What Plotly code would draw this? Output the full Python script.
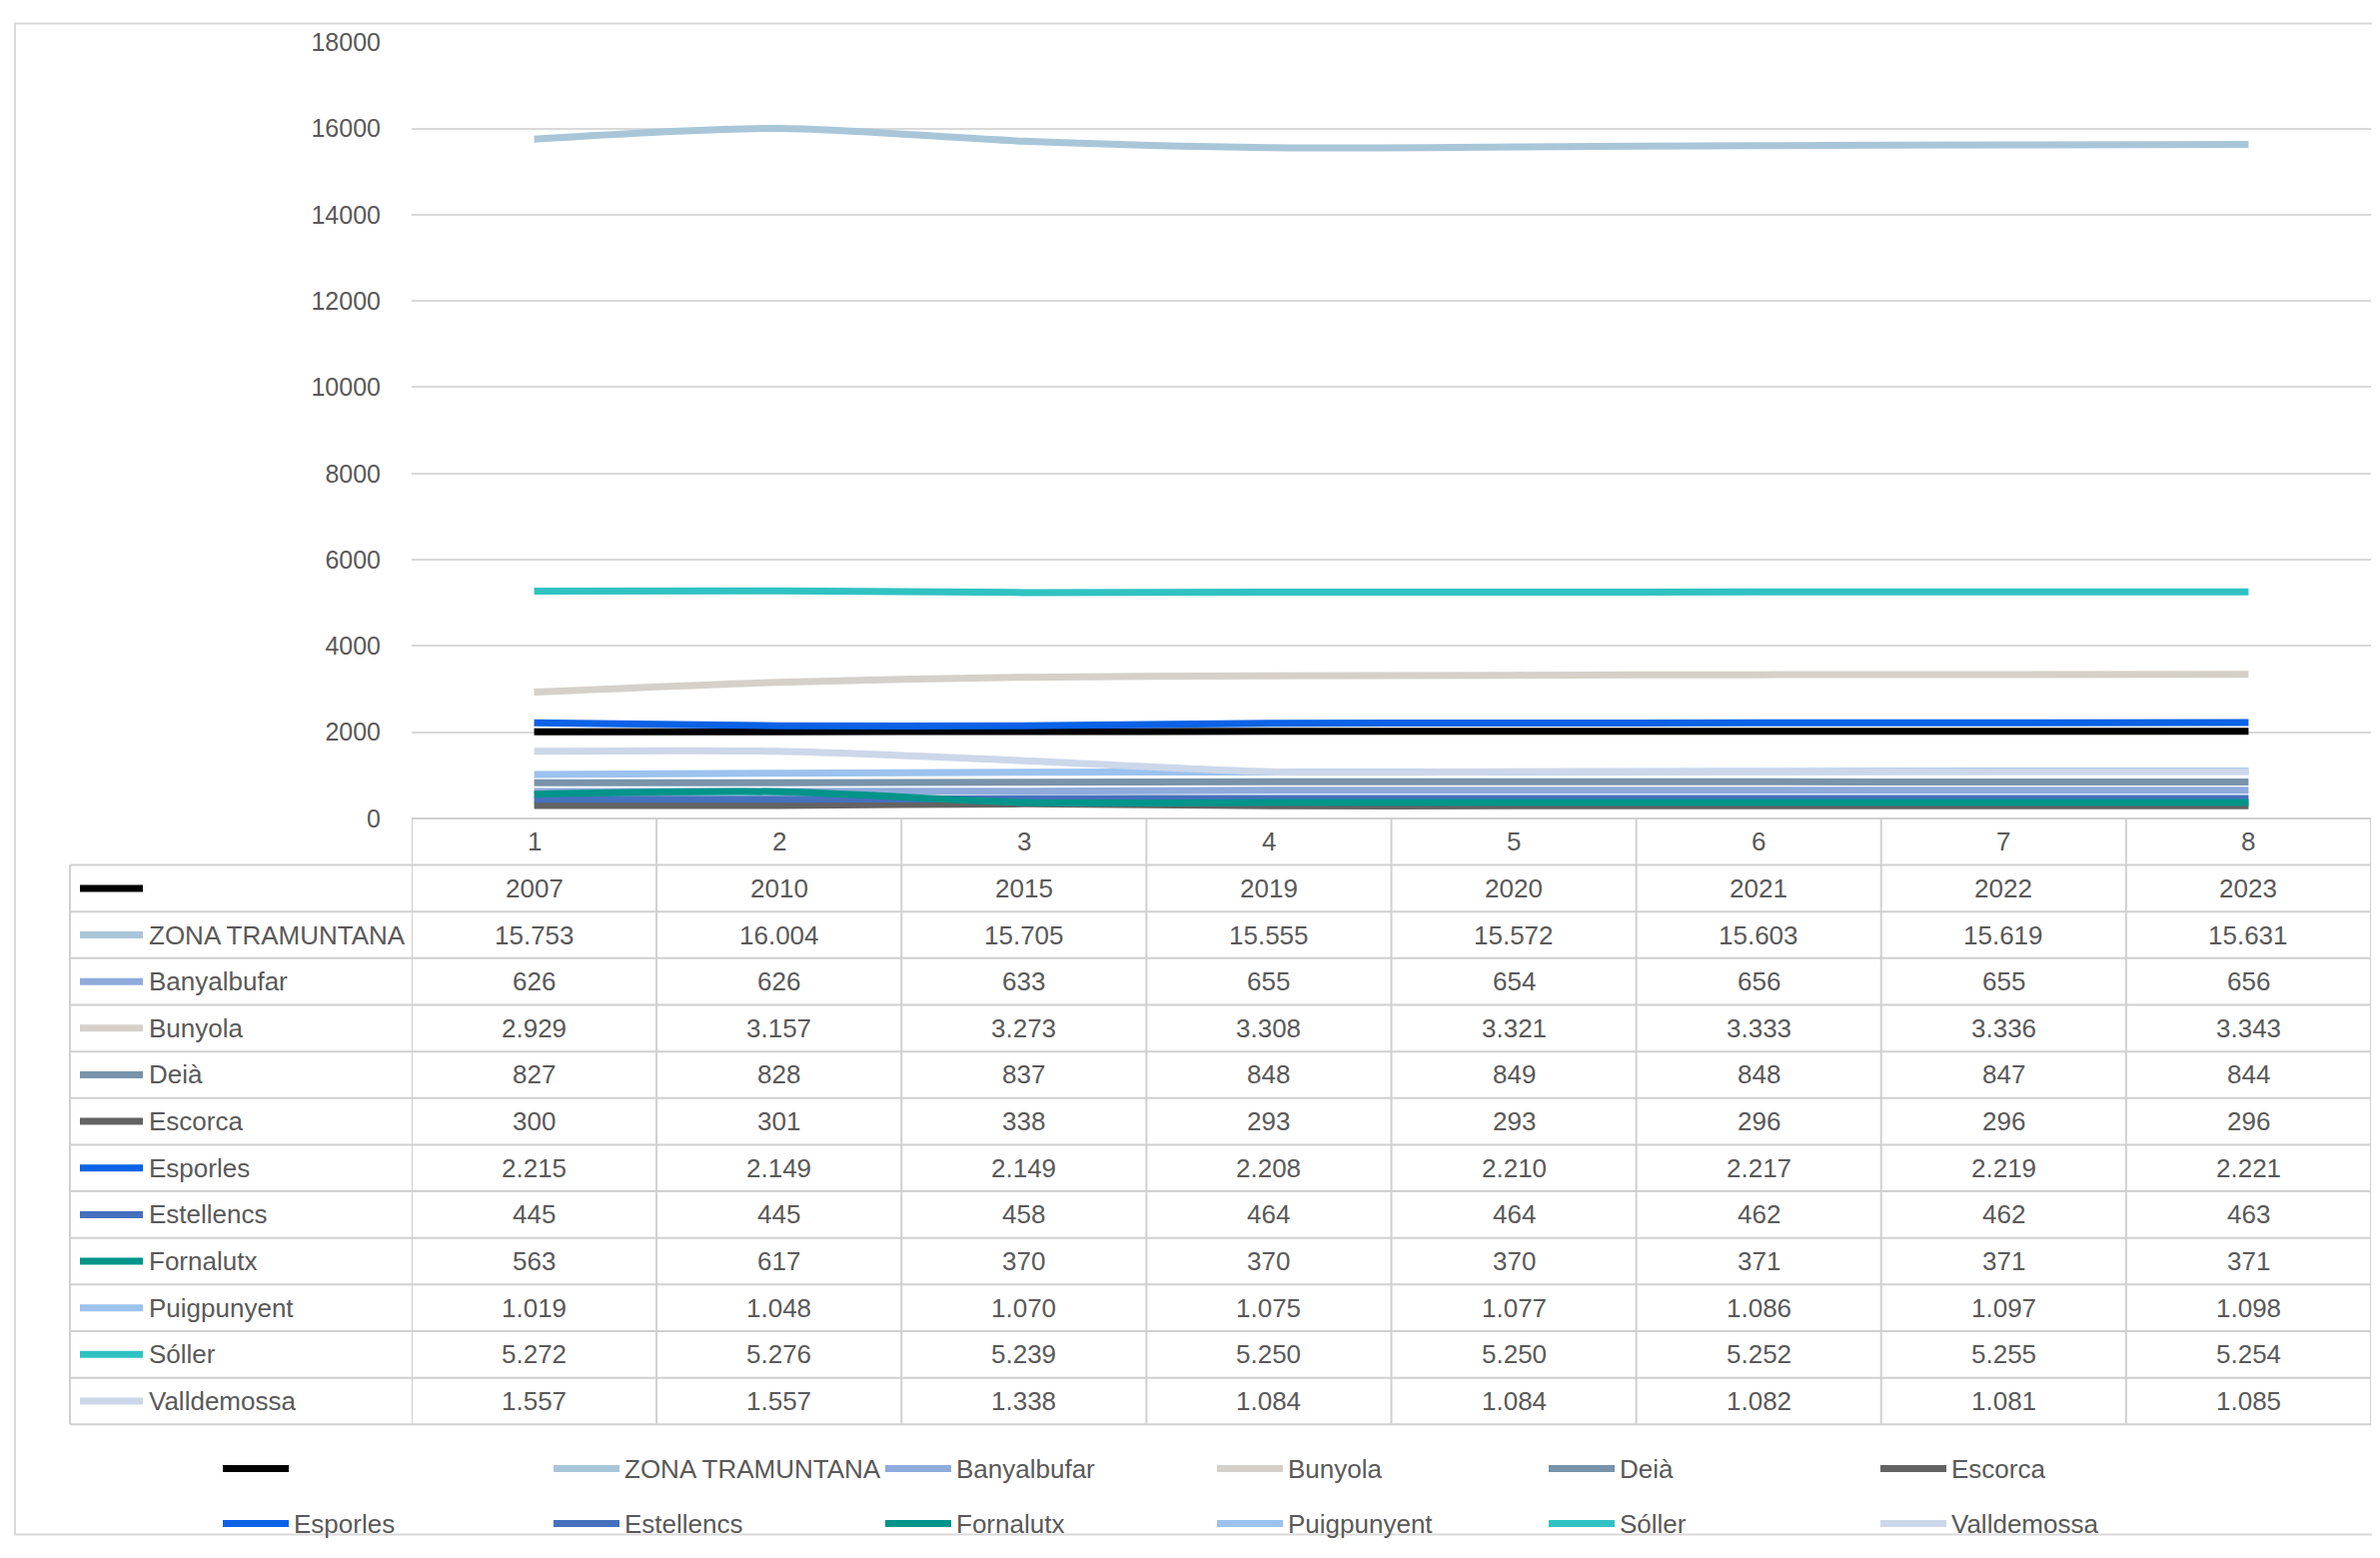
import plotly.graph_objects as go

# ---------------- data ----------------
categories = [1, 2, 3, 4, 5, 6, 7, 8]
series_names = ["", "ZONA TRAMUNTANA", "Banyalbufar", "Bunyola", "Deià", "Escorca",
                "Esporles", "Estellencs", "Fornalutx", "Puigpunyent", "Sóller", "Valldemossa"]
years = [2007, 2010, 2015, 2019, 2020, 2021, 2022, 2023]
zona_tramuntana = [15753, 16004, 15705, 15555, 15572, 15603, 15619, 15631]
banyalbufar = [626, 626, 633, 655, 654, 656, 655, 656]
bunyola = [2929, 3157, 3273, 3308, 3321, 3333, 3336, 3343]
deia = [827, 828, 837, 848, 849, 848, 847, 844]
escorca = [300, 301, 338, 293, 293, 296, 296, 296]
esporles = [2215, 2149, 2149, 2208, 2210, 2217, 2219, 2221]
estellencs = [445, 445, 458, 464, 464, 462, 462, 463]
fornalutx = [563, 617, 370, 370, 370, 371, 371, 371]
puigpunyent = [1019, 1048, 1070, 1075, 1077, 1086, 1097, 1098]
soller = [5272, 5276, 5239, 5250, 5250, 5252, 5255, 5254]
valldemossa = [1557, 1557, 1338, 1084, 1084, 1082, 1081, 1085]
y_ticks = [0, 2000, 4000, 6000, 8000, 10000, 12000, 14000, 16000, 18000]

series_values = [years, zona_tramuntana, banyalbufar, bunyola, deia, escorca,
                 esporles, estellencs, fornalutx, puigpunyent, soller, valldemossa]
colors = ["#000000", "#A9C6D9", "#8EABDB", "#D5D0C9", "#7893AA", "#636363",
          "#0A62E6", "#4670BE", "#00948A", "#9CC2EE", "#30C2C2", "#CCD7EA"]

# ---------------- geometry (pixels in the 2382x1559 window) ----------------
OFF = 8                      # default body margin of the html page
W, H = 2382 - 2 * OFF, 1559 - 2 * OFF
PLOT_L, PLOT_R = 412, 2373
TAB_L = 70
TXT = "#595959"
FONT = "Liberation Sans, Arial, sans-serif"
FS = 26


def vy(t):
    # vertical calibration of the rendered page
    return (t - 12.9) / 0.981


Y0_PX, YTOP_PX = vy(817), vy(41)
ROW_H = 46.6 / 0.981


def px(x):
    return (x - OFF) / W


def py(y):
    return max(0.0, 1 - (y - OFF) / H)


def fmt_cell(v, is_year):
    if is_year:
        return str(v)
    return f"{v:,}".replace(",", ".")


fig = go.Figure()
for name, vals, col in zip(series_names, series_values, colors):
    fig.add_trace(go.Scatter(
        x=categories, y=vals, mode="lines", name=name,
        line=dict(color=col, width=7, shape="spline", smoothing=0.8),
        showlegend=False, hoverinfo="x+y+name"))

shapes = []
annotations = []

# outer border
shapes.append(dict(type="rect", xref="paper", yref="paper",
                   x0=px(15), x1=px(2400), y0=0.001, y1=0.999,
                   line=dict(color="#D9D9D9", width=2), fillcolor="rgba(0,0,0,0)", layer="below"))

# table grid
n_rows = 1 + len(series_names)
tab_top = Y0_PX
tab_bot = Y0_PX + n_rows * ROW_H
line_col = "#D0D0D0"
for k in range(n_rows + 1):
    yk = tab_top + k * ROW_H
    x_start = PLOT_L if k == 0 else TAB_L
    shapes.append(dict(type="line", xref="paper", yref="paper",
                       x0=px(x_start), x1=px(PLOT_R), y0=py(yk), y1=py(yk),
                       line=dict(color=line_col, width=2)))
shapes.append(dict(type="line", xref="paper", yref="paper",
                   x0=px(TAB_L), x1=px(TAB_L), y0=py(tab_top + ROW_H), y1=py(tab_bot),
                   line=dict(color=line_col, width=2)))
for c in range(len(categories) + 1):
    xc = c + 0.5
    shapes.append(dict(type="line", xref="x", yref="paper",
                       x0=xc, x1=xc, y0=py(tab_top), y1=py(tab_bot),
                       line=dict(color=line_col, width=2)))

# header row (category numbers)
for c in categories:
    annotations.append(dict(x=c, y=py(tab_top + ROW_H / 2), xref="x", yref="paper",
                            text=str(c), showarrow=False,
                            font=dict(family=FONT, size=FS, color=TXT),
                            xanchor="center", yanchor="middle"))

# data rows
for r, (name, vals, col) in enumerate(zip(series_names, series_values, colors)):
    yc = tab_top + (r + 1.5) * ROW_H
    shapes.append(dict(type="line", xref="paper", yref="paper",
                       x0=px(80), x1=px(143), y0=py(yc), y1=py(yc),
                       line=dict(color=col, width=7)))
    if name:
        annotations.append(dict(x=px(147), y=py(yc), xref="paper", yref="paper",
                                text=name, showarrow=False,
                                font=dict(family=FONT, size=FS, color=TXT),
                                xanchor="left", yanchor="middle"))
    for c, v in zip(categories, vals):
        annotations.append(dict(x=c, y=py(yc), xref="x", yref="paper",
                                text=fmt_cell(v, r == 0), showarrow=False,
                                font=dict(family=FONT, size=FS, color=TXT),
                                xanchor="center", yanchor="middle"))

# legend (two rows of six)
leg_x = [223, 554, 886, 1218, 1550, 1882]
leg_y = [vy(1467), vy(1522)]
for i, (name, col) in enumerate(zip(series_names, colors)):
    lx = leg_x[i % 6]
    ly = leg_y[i // 6]
    shapes.append(dict(type="line", xref="paper", yref="paper",
                       x0=px(lx), x1=px(lx + 66), y0=py(ly), y1=py(ly),
                       line=dict(color=col, width=7)))
    if name:
        annotations.append(dict(x=px(lx + 69), y=py(ly), xref="paper", yref="paper",
                                text=name, showarrow=False,
                                font=dict(family=FONT, size=FS, color=TXT),
                                xanchor="left", yanchor="middle"))

fig.update_layout(
    width=W, height=H,
    margin=dict(l=0, r=0, t=0, b=0),
    paper_bgcolor="white", plot_bgcolor="white",
    xaxis=dict(domain=[px(PLOT_L), px(PLOT_R)], range=[0.5, 8.5],
               showgrid=False, zeroline=False, showticklabels=False, ticks="",
               showline=False, fixedrange=True),
    yaxis=dict(domain=[py(Y0_PX), py(YTOP_PX)], range=[0, 18000],
               tickvals=y_ticks, ticktext=[str(t) for t in y_ticks],
               showgrid=True, gridcolor="#D9D9D9", gridwidth=2,
               zeroline=False, showline=False, ticks="",
               tickfont=dict(family=FONT, size=25, color=TXT),
               ticklabelstandoff=30, fixedrange=True),
    shapes=shapes,
    annotations=annotations,
)

fig.write_html("out.html")
